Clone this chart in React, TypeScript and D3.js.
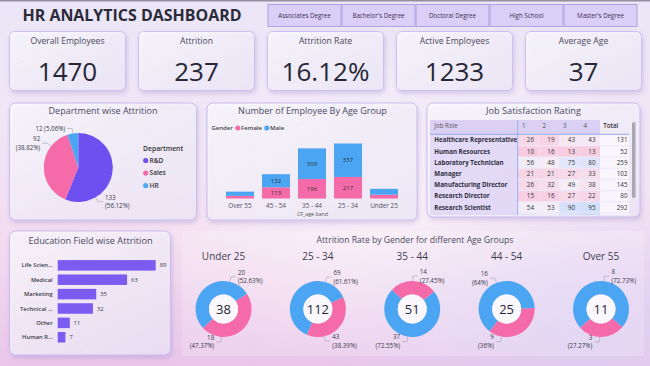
import * as d3 from "d3";

// ---- data ----
const filterLabels = ["Associates Degree", "Bachelor's Degree", "Doctoral Degree", "High School", "Master's Degree"];

const kpiLabels = ["Overall Employees", "Attrition", "Attrition Rate", "Active Employees", "Average Age"];
const kpiValues = ["1470", "237", "16.12%", "1233", "37"];

const departments = ["R&D", "Sales", "HR"];
const deptAttrition = [133, 92, 12];

const ageBands = ["Over 55", "45 - 54", "35 - 44", "25 - 34", "Under 25"];
const femaleByAge = [26, 113, 196, 217, 38];
const maleByAge = [43, 132, 309, 337, 59];

const jobRoles = [
  "Healthcare Representative",
  "Human Resources",
  "Laboratory Technician",
  "Manager",
  "Manufacturing Director",
  "Research Director",
  "Research Scientist",
  "Sales Executive",
];
const rating1 = [26, 10, 56, 21, 26, 15, 54, 69];
const rating2 = [19, 16, 48, 21, 32, 16, 53, 54];
const rating3 = [43, 13, 75, 27, 49, 27, 90, 91];
const rating4 = [43, 13, 80, 33, 38, 22, 95, 112];
const ratingCols = ["1", "2", "3", "4"];

const eduFields = ["Life Sciences", "Medical", "Marketing", "Technical Degree", "Other", "Human Resources"];
const eduShown = ["Life Scien...", "Medical", "Marketing", "Technical ...", "Other", "Human R..."];
const eduAttrition = [89, 63, 35, 32, 11, 7];

const donutGroups = ["Under 25", "25 - 34", "35 - 44", "44 - 54", "Over 55"];
const donutFemale = [18, 43, 14, 9, 3];
const donutMale = [20, 69, 37, 16, 8];

// ---- layout bits (degrees) ----
const donutStart = [57, 65, -47, 88, 130];
const donutLabelAngles = [
  [184, 13],
  [167, 15],
  [1, 189],
  [190, 339],
  [183, 6],
];
const deptLabelAngles = [150, 308, 351];

const FONT = "'Open Sans', 'Noto Sans', sans-serif";
const PINK = "#f56aa8";
const BLUE = "#4ba5f2";
const PURPLE = "#6d50ef";
const EDU = "#7b5bf0";
const pct = d3.format(".2~f");

function Panel({ x, y, w, h }: { x: number; y: number; w: number; h: number }) {
  return (
    <rect x={x} y={y} width={w} height={h} rx={6} fill="url(#panelFill)" stroke="#c9bdf0" strokeWidth={1} filter="url(#shadow)" />
  );
}

function LeaderLabel({ cx, cy, r, angle, lines, fs }: { cx: number; cy: number; r: number; angle: number; lines: string[]; fs: number }) {
  const a = (angle * Math.PI) / 180;
  const sx = cx + r * Math.sin(a);
  const sy = cy - r * Math.cos(a);
  const ex = cx + (r + 5) * Math.sin(a);
  const ey = cy - (r + 5) * Math.cos(a);
  const side = Math.sin(a) >= 0 ? 1 : -1;
  const hx = ex + side * 5;
  const tx = hx + side * 2;
  const n = lines.length;
  return (
    <g>
      <polyline points={`${sx},${sy} ${ex},${ey} ${hx},${ey}`} fill="none" stroke="#a4a2b0" strokeWidth={0.6} />
      {lines.map((l, i) => (
        <text key={i} x={tx} y={ey + (i - (n - 1) / 2) * fs * 1.4} dy="0.35em" textAnchor={side > 0 ? "start" : "end"} fontSize={fs} fill="#3a3a48">
          {l}
        </text>
      ))}
    </g>
  );
}

export default function App() {
  // department pie
  const deptTotal = d3.sum(deptAttrition);
  const deptColor = d3.scaleOrdinal<string>().domain(departments).range([PURPLE, PINK, BLUE]);
  const pieArcs = d3.pie<number>().sort(null)(deptAttrition);
  const pieR = 34.5;
  const pieArc = d3.arc<d3.PieArcDatum<number>>().innerRadius(0).outerRadius(pieR);
  const pcx = 78.3;
  const pcy = 167.5;

  // age stacked bars
  const ageRows = ageBands.map((b, i) => ({ band: b, female: femaleByAge[i], male: maleByAge[i] }));
  const stacked = d3.stack<any>().keys(["female", "male"])(ageRows);
  const ax = d3.scaleBand().domain(ageBands).range([222, 402]).paddingInner(8 / 36).paddingOuter(4 / 36);
  const ay = d3.scaleLinear().domain([0, d3.max(ageRows, (d) => d.female + d.male)!]).range([198.5, 143.5]);

  // job table
  const tRows = d3.scaleBand().domain(jobRoles).range([134.6, 134.6 + jobRoles.length * 11.2]);
  const tCols = d3.scaleBand().domain(ratingCols).range([518, 600]);
  const ratings = [rating1, rating2, rating3, rating4];
  const heat = d3.scaleLinear<string>().domain([10, 50, 95]).range(["#f7cbdf", "#f5eef8", "#d2e0fb"]);

  // education bars
  const ey = d3.scaleBand().domain(eduFields).range([256.2, 346.4]).padding(0.27);
  const ex = d3.scaleLinear().domain([0, d3.max(eduAttrition)!]).range([57.7, 155.7]);

  // donuts
  const dx = d3.scalePoint().domain(donutGroups).range([223.5, 601]);
  const dR = 28;
  const donutArc = d3.arc<d3.PieArcDatum<number>>().innerRadius(14.5).outerRadius(dR);
  const dcy = 309;

  return (
    <svg width={650} height={366} style={{ position: "fixed", left: 0, top: 0, display: "block" }} fontFamily={FONT}>
      <defs>
        <linearGradient id="bg" x1="0" y1="0" x2="0" y2="1">
          <stop offset="0" stopColor="#ebe6f7" />
          <stop offset="0.3" stopColor="#efe6f6" />
          <stop offset="0.65" stopColor="#f3dcf0" />
          <stop offset="1" stopColor="#e9c6ea" />
        </linearGradient>
        <radialGradient id="glow" cx="0.62" cy="0.55" r="0.45">
          <stop offset="0" stopColor="#ffffff" stopOpacity="0.55" />
          <stop offset="1" stopColor="#ffffff" stopOpacity="0" />
        </radialGradient>
        <radialGradient id="lav" cx="0.9" cy="0.9" r="0.4">
          <stop offset="0" stopColor="#d9d2f6" stopOpacity="0.7" />
          <stop offset="1" stopColor="#d9d2f6" stopOpacity="0" />
        </radialGradient>
        <linearGradient id="panelFill" x1="0" y1="0" x2="1" y2="1">
          <stop offset="0" stopColor="#ffffff" stopOpacity="0.72" />
          <stop offset="1" stopColor="#f3effc" stopOpacity="0.62" />
        </linearGradient>
        <filter id="shadow" x="-10%" y="-10%" width="125%" height="130%">
          <feDropShadow dx="1.2" dy="2.5" stdDeviation="2" floodColor="#7a68b5" floodOpacity="0.35" />
        </filter>
        <clipPath id="tableClip">
          <rect x={428} y={118} width={206} height={97} />
        </clipPath>
      </defs>

      <rect width={650} height={366} fill="url(#bg)" />
      <rect width={650} height={366} fill="url(#glow)" />
      <rect width={650} height={366} fill="url(#lav)" />
      <rect width={650} height={1.5} fill="#6e6c7a" opacity={0.7} />

      {/* header */}
      <text x={22.5} y={21} fontSize={16} fontWeight={700} fill="#2b2b3a" textLength={219} lengthAdjust="spacingAndGlyphs">
        HR ANALYTICS DASHBOARD
      </text>
      {filterLabels.map((f, i) => (
        <g key={f}>
          <rect x={268 + i * 74} y={4.5} width={73} height={22} fill="#dacff7" stroke="#a493dc" strokeWidth={0.8} />
          <text x={268 + i * 74 + 36.5} y={16} dy="0.35em" textAnchor="middle" fontSize={6.2} fill="#3b3352">
            {f}
          </text>
        </g>
      ))}

      {/* KPI cards */}
      {kpiLabels.map((k, i) => {
        const x = 9.5 + i * 129;
        return (
          <g key={k}>
            <rect x={x} y={31.5} width={116} height={59} rx={5} fill="url(#panelFill)" stroke="#cbc0f0" filter="url(#shadow)" />
            <text x={x + 58} y={44} textAnchor="middle" fontSize={8.6} fill="#4b4a5c">
              {k}
            </text>
            <text x={x + 58} y={81} textAnchor="middle" fontSize={26} fill="#262636">
              {kpiValues[i]}
            </text>
          </g>
        );
      })}

      {/* Department wise Attrition */}
      <Panel x={9.5} y={103} w={187} h={117} />
      <text x={103} y={111} dy="0.35em" textAnchor="middle" fontSize={9} fill="#4a4a5e">
        Department wise Attrition
      </text>
      <g transform={`translate(${pcx},${pcy})`}>
        {pieArcs.map((a, i) => (
          <path key={i} d={pieArc(a)!} fill={deptColor(departments[i])} />
        ))}
      </g>
      {pieArcs.map((a, i) => {
        const v = deptAttrition[i];
        const p = `(${pct((v / deptTotal) * 100)}%)`;
        const lines = i === 2 ? [`${v} ${p}`] : [String(v), p];
        return <LeaderLabel key={i} cx={pcx} cy={pcy} r={pieR} angle={deptLabelAngles[i]} lines={lines} fs={6.2} />;
      })}
      <text x={143} y={149} dy="0.35em" fontSize={6.8} fontWeight={600} fill="#333">
        Department
      </text>
      {departments.map((d, i) => (
        <g key={d}>
          <circle cx={145.7} cy={160.5 + i * 12.5} r={2.6} fill={deptColor(d)} />
          <text x={149.5} y={160.5 + i * 12.5} dy="0.35em" fontSize={6.6} fontWeight={600} fill="#333">
            {d}
          </text>
        </g>
      ))}

      {/* Number of Employee By Age Group */}
      <Panel x={207} y={103} w={210} h={117} />
      <text x={312.5} y={111} dy="0.35em" textAnchor="middle" fontSize={9} fill="#4a4a5e">
        Number of Employee By Age Group
      </text>
      <text x={211.5} y={128} dy="0.35em" fontSize={6} fontWeight={600} fill="#444">
        Gender
      </text>
      <circle cx={237.8} cy={128} r={2.5} fill={PINK} />
      <text x={241} y={128} dy="0.35em" fontSize={6} fontWeight={600} fill="#444">
        Female
      </text>
      <circle cx={266.8} cy={128} r={2.5} fill={BLUE} />
      <text x={270} y={128} dy="0.35em" fontSize={6} fontWeight={600} fill="#444">
        Male
      </text>
      {stacked.map((s) => (
        <g key={s.key} fill={s.key === "female" ? PINK : BLUE}>
          {s.map((d) => {
            const y0 = ay(d[0]);
            const y1 = ay(d[1]);
            const band = (d.data as any).band;
            return (
              <g key={band}>
                <rect x={ax(band)} y={y1} width={ax.bandwidth()} height={y0 - y1} />
                {y0 - y1 > 9 && (
                  <text x={ax(band)! + ax.bandwidth() / 2} y={(y0 + y1) / 2} dy="0.35em" textAnchor="middle" fontSize={6} fill="#333">
                    {d[1] - d[0]}
                  </text>
                )}
              </g>
            );
          })}
        </g>
      ))}
      {ageBands.map((b) => (
        <text key={b} x={ax(b)! + ax.bandwidth() / 2} y={205.5} dy="0.35em" textAnchor="middle" fontSize={6.4} fill="#505060">
          {b}
        </text>
      ))}
      <text x={312.5} y={213.8} dy="0.35em" textAnchor="middle" fontSize={5.3} fill="#555">
        CF_age band
      </text>

      {/* Job Satisfaction Rating */}
      <Panel x={427} y={103} w={213} h={114} />
      <text x={533.5} y={111} dy="0.35em" textAnchor="middle" fontSize={9.2} fill="#4a4a5e">
        Job Satisfaction Rating
      </text>
      <g clipPath="url(#tableClip)">
        <rect x={430} y={120} width={170} height={14} fill="#d6caf3" opacity={0.85} />
        <rect x={430} y={134.5} width={88} height={82} fill="#ddd3f6" opacity={0.75} />
        <text x={434.3} y={125.7} dy="0.35em" fontSize={6.2} fill="#555">
          Job Role
        </text>
        {ratingCols.map((c) => (
          <text key={c} x={tCols(c)! + 4} y={125.7} dy="0.35em" fontSize={6.2} fill="#555">
            {c}
          </text>
        ))}
        <text x={603.3} y={125.7} dy="0.35em" fontSize={6.2} fontWeight={600} fill="#333">
          Total
        </text>
        {jobRoles.map((role, ri) => {
          const y = tRows(role)!;
          const h = tRows.bandwidth();
          return (
            <g key={role}>
              {ratings.map((col, ci) => (
                <g key={ci}>
                  <rect x={tCols(ratingCols[ci])!} y={y + 0.5} width={tCols.bandwidth()} height={h - 1} fill={heat(col[ri])} />
                  <text x={tCols(ratingCols[ci])! + tCols.bandwidth() - 4.5} y={y + h / 2} dy="0.35em" textAnchor="end" fontSize={6.3} fill="#333">
                    {col[ri]}
                  </text>
                </g>
              ))}
              <rect x={600} y={y + 0.5} width={29} height={h - 1} fill="#fbf9fe" opacity={0.8} />
              <text x={627.5} y={y + h / 2} dy="0.35em" textAnchor="end" fontSize={6.3} fill="#333">
                {d3.sum(ratings, (col) => col[ri])}
              </text>
              <text x={434.3} y={y + h / 2} dy="0.35em" fontSize={6.2} fontWeight={700} fill="#2e2e40">
                {role}
              </text>
            </g>
          );
        })}
        <line x1={517.7} x2={517.7} y1={120} y2={216} stroke="#8aa6e6" strokeWidth={0.8} />
        <line x1={430} x2={629} y1={134.3} y2={134.3} stroke="#7f9ee3" strokeWidth={0.8} />
      </g>
      <rect x={632} y={122} width={3.5} height={76} rx={1.7} fill="#a9a7b3" />

      {/* Education Field wise Attrition */}
      <Panel x={9.5} y={231} w={161} h={124} />
      <text x={90.5} y={240.3} dy="0.35em" textAnchor="middle" fontSize={9.2} fill="#4a4a5e">
        Education Field wise Attrition
      </text>
      {eduFields.map((f, i) => (
        <g key={f}>
          <rect x={ex(0)} y={ey(f)} width={ex(eduAttrition[i]) - ex(0)} height={ey.bandwidth()} fill={EDU} />
          <text x={52.7} y={ey(f)! + ey.bandwidth() / 2} dy="0.35em" textAnchor="end" fontSize={5.8} fontWeight={600} fill="#3a3a48">
            {eduShown[i]}
          </text>
          <text x={ex(eduAttrition[i]) + 4} y={ey(f)! + ey.bandwidth() / 2} dy="0.35em" fontSize={5.8} fill="#3a3a48">
            {eduAttrition[i]}
          </text>
        </g>
      ))}

      {/* Attrition rate by gender donuts */}
      <rect x={182} y={231} width={462} height={125} fill="#ffffff" opacity={0.18} />
      <text x={415} y={240.3} dy="0.35em" textAnchor="middle" fontSize={8.6} fill="#4a4a5e">
        Attrition Rate by Gender for different Age Groups
      </text>
      {donutGroups.map((g, i) => {
        const cx = dx(g)!;
        const vals = [donutFemale[i], donutMale[i]];
        const total = d3.sum(vals);
        const s = (donutStart[i] * Math.PI) / 180;
        const arcs = d3.pie<number>().sort(null).startAngle(s).endAngle(s + 2 * Math.PI)(vals);
        return (
          <g key={g}>
            <text x={cx} y={256} dy="0.35em" textAnchor="middle" fontSize={10} fill="#3e3e4e">
              {g}
            </text>
            <g transform={`translate(${cx},${dcy})`}>
              {arcs.map((a, j) => (
                <path key={j} d={donutArc(a)!} fill={j === 0 ? PINK : BLUE} />
              ))}
              <circle r={14.5} fill="#fbf8fd" />
              <text y={0} dy="0.36em" textAnchor="middle" fontSize={13} fill="#262636">
                {total}
              </text>
            </g>
            {vals.map((v, j) => (
              <LeaderLabel
                key={j}
                cx={cx}
                cy={dcy}
                r={dR}
                angle={donutLabelAngles[i][j]}
                lines={[String(v), `(${pct((v / total) * 100)}%)`]}
                fs={6.2}
              />
            ))}
          </g>
        );
      })}
    </svg>
  );
}
